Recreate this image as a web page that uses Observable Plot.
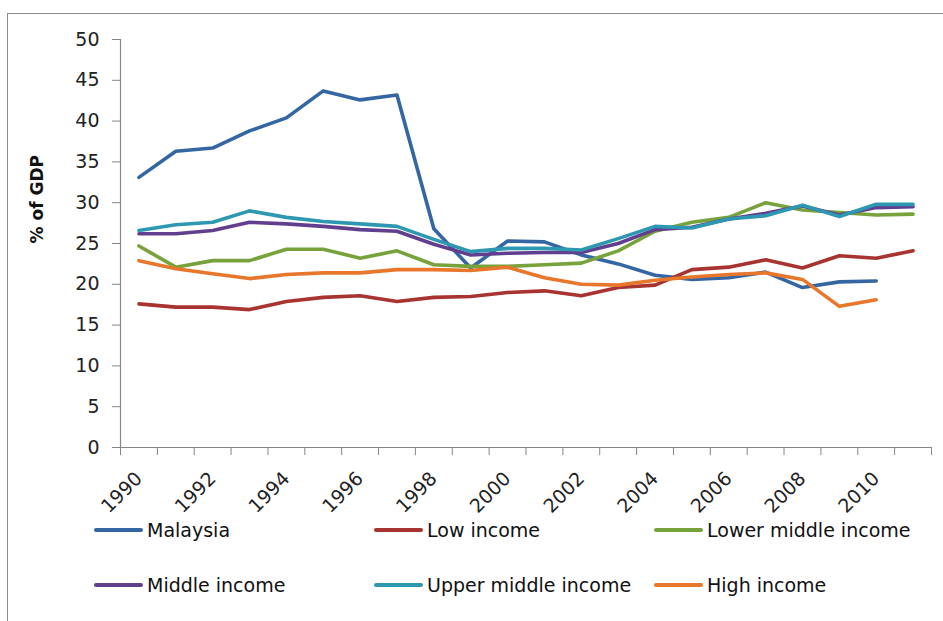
<!DOCTYPE html>
<html>
<head>
<meta charset="utf-8">
<script src="https://cdn.jsdelivr.net/npm/d3@7"></script>
<script src="https://cdn.jsdelivr.net/npm/@observablehq/plot@0.6"></script>
<style>
  html, body { margin: 0; padding: 0; background: #fff; }
  #wrap { position: relative; width: 943px; height: 621px; overflow: hidden; font-family: "DejaVu Sans", sans-serif; }
  #frame { position: absolute; left: 7px; top: 13px; width: 960px; height: 640px; border: 1.5px solid #8a8a8a; box-sizing: border-box; }
  #chart { position: absolute; left: 0; top: 0; }
  .leg { position: absolute; display: flex; align-items: center; font-size: 19px; color: #111; white-space: nowrap; }
  .leg .sw { width: 49px; height: 4px; border-radius: 2px; margin-right: 4px; }
</style>
</head>
<body>
<div id="wrap">
  <div id="frame"></div>
  <div id="chart"></div>
  <div id="legend"></div>
</div>
<script>
// ---- data ----
const years = [1990,1991,1992,1993,1994,1995,1996,1997,1998,1999,2000,2001,2002,2003,2004,2005,2006,2007,2008,2009,2010,2011];
const yearLabels = [1990,1992,1994,1996,1998,2000,2002,2004,2006,2008,2010];
const yTicks = [0,5,10,15,20,25,30,35,40,45,50];

const seriesNames = ["Malaysia","Low income","Lower middle income","Middle income","Upper middle income","High income"];
const seriesColors = ["#3466a3","#a83431","#78a23c","#623f8e","#2e97b2","#e8772c"];

const malaysia    = [33.1,36.3,36.7,38.8,40.4,43.7,42.6,43.2,26.8,22.0,25.3,25.2,23.6,22.5,21.1,20.6,20.8,21.5,19.6,20.3,20.4];
const lowIncome   = [17.6,17.2,17.2,16.9,17.9,18.4,18.6,17.9,18.4,18.5,19.0,19.2,18.6,19.6,19.9,21.8,22.1,23.0,22.0,23.5,23.2,24.1];
const lowerMiddle = [24.7,22.1,22.9,22.9,24.3,24.3,23.2,24.1,22.4,22.2,22.2,22.4,22.6,24.1,26.5,27.6,28.2,30.0,29.1,28.8,28.5,28.6];
const middle      = [26.2,26.2,26.6,27.6,27.4,27.1,26.7,26.5,24.9,23.6,23.8,23.9,23.9,25.0,26.7,27.0,28.0,28.7,29.6,28.5,29.4,29.5];
const upperMiddle = [26.6,27.3,27.6,29.0,28.2,27.7,27.4,27.1,25.5,24.0,24.4,24.4,24.2,25.6,27.1,26.9,28.0,28.4,29.7,28.3,29.8,29.8];
const highIncome  = [22.9,21.9,21.3,20.7,21.2,21.4,21.4,21.8,21.8,21.7,22.1,20.8,20.0,19.9,20.5,20.9,21.2,21.4,20.6,17.3,18.1];

const seriesValues = [malaysia, lowIncome, lowerMiddle, middle, upperMiddle, highIncome];

// long-format table built from the arrays
const rows = [];
seriesNames.forEach((name, i) => {
  seriesValues[i].forEach((v, j) => rows.push({series: name, year: years[j], value: v}));
});

// category boundaries (tick marks sit between categories)
const boundaries = years.map(y => y - 0.5).concat([years[years.length - 1] + 0.5]);

const chart = Plot.plot({
  width: 943,
  height: 520,
  marginTop: 39,
  marginBottom: 73,
  marginLeft: 120,
  marginRight: 12,
  style: {fontFamily: "DejaVu Sans, sans-serif", background: "transparent", color: "#222"},
  x: {type: "linear", domain: [1989.5, 2011.5]},
  y: {type: "linear", domain: [0, 50]},
  color: {domain: seriesNames, range: seriesColors},
  marks: [
    // y axis
    Plot.ruleX([1989.5], {y1: 0, y2: 50, stroke: "#868686", strokeWidth: 1.2}),
    Plot.axisY({ticks: yTicks, tickSize: 8, tickPadding: 13, fontSize: 19, stroke: "#868686", strokeOpacity: 1, label: null, tickFormat: d => String(d)}),
    // x axis
    Plot.ruleY([0], {stroke: "#868686", strokeWidth: 1.2}),
    Plot.axisX({ticks: boundaries, tickSize: 8, stroke: "#868686", strokeOpacity: 1, tickFormat: () => "", label: null}),
    Plot.text(yearLabels, {x: d => d, y: 0, text: d => String(d), dy: 28, rotate: -45, textAnchor: "end", fontSize: 19, fill: "#222"}),
    // y label
    Plot.text(["% of GDP"], {frameAnchor: "left", dx: -83, rotate: -90, fontSize: 17, fontWeight: "bold", fill: "#111"}),
    // lines
    Plot.line(rows, {x: "year", y: "value", z: "series", stroke: "series", strokeWidth: 3.6, strokeLinejoin: "round", strokeLinecap: "round"})
  ]
});
document.getElementById("chart").appendChild(chart);

// legend
const legendPos = [[94,530],[374,530],[654,530],[94,585],[374,585],[654,585]];
const legend = document.getElementById("legend");
seriesNames.forEach((name, i) => {
  const d = document.createElement("div");
  d.className = "leg";
  d.style.left = legendPos[i][0] + "px";
  d.style.top = (legendPos[i][1] - 12) + "px";
  d.style.height = "24px";
  const sw = document.createElement("span");
  sw.className = "sw";
  sw.style.background = seriesColors[i];
  const t = document.createElement("span");
  t.textContent = name;
  d.appendChild(sw); d.appendChild(t);
  legend.appendChild(d);
});
</script>
</body>
</html>
